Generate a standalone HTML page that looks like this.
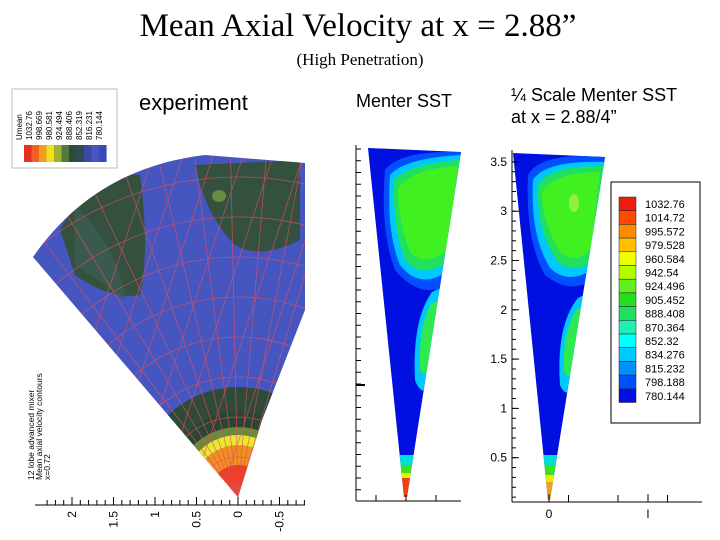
<!DOCTYPE html>
<html><head><meta charset="utf-8"><style>
html,body{margin:0;padding:0;background:#fff;overflow:hidden;width:720px;height:540px;}
svg{display:block;overflow:hidden;}
text{font-family:"Liberation Sans",sans-serif;}
</style></head><body>
<svg id="s" width="720" height="540" viewBox="0 0 720 540">
<text x="358" y="36" text-anchor="middle" style="font-family:'Liberation Serif',serif" font-size="33">Mean Axial Velocity at x = 2.88”</text>
<text x="360" y="65" text-anchor="middle" style="font-family:'Liberation Serif',serif" font-size="17">(High Penetration)</text>
<text x="139" y="110" font-size="22">experiment</text>
<text x="356" y="107" font-size="18">Menter SST</text>
<text x="511" y="101" font-size="18">¼ Scale Menter SST</text>
<text x="511" y="123" font-size="18">at x = 2.88/4”</text>

<defs>
<clipPath id="fanclip"><path d="M238,497 L33,257 Q95,168 205,155 L305,163 L305,310 L262,420 Z"/></clipPath>
<clipPath id="midclip"><path d="M368,148 L461,152 L407,497 L404,497 Z"/></clipPath>
<clipPath id="rclip"><path d="M513,153 L605,157 L550,500 L548,500 Z"/></clipPath>
</defs>
<g clip-path="url(#fanclip)">
<rect x="30" y="150" width="280" height="350" fill="#4656c0"/>
<path d="M60,230 Q90,170 140,175 Q150,250 140,295 Q110,300 75,275 Z" fill="#34503e"/>
<path d="M75,205 Q120,250 125,300 Q100,280 75,265 Z" fill="#3a5a50"/>
<path d="M195,165 L300,160 L300,240 Q260,260 235,245 Q205,215 195,165 Z" fill="#34503e"/>
<ellipse cx="219" cy="196" rx="7" ry="6" fill="#6a8a40"/>
<path d="M133,497 A105,110 0 0 1 343,497 Z" fill="#2f4a38"/>
<path d="M158,497 A80,85 0 0 1 318,497 Z" fill="#2a4632"/>
<path d="M172,497 A66,70 0 0 1 304,497 Z" fill="#6b8a3a"/>
<path d="M180,497 A58,62 0 0 1 296,497 Z" fill="#e8e830"/>
<path d="M190,497 A48,52 0 0 1 286,497 Z" fill="#f09020"/>
<path d="M208,497 A30,32 0 0 1 268,497 Z" fill="#f03a20"/>
<g id="mesh" stroke="#e05060" stroke-width="0.8" fill="none" opacity="0.75"></g>
</g>
<g>
<rect x="12" y="89" width="105" height="79" fill="#fff" stroke="#bbb"/>
<g id="lleg"></g>
</g>
<g font-size="8.5">
<text transform="translate(34,480) rotate(-90)">12 lobe advanced mixer</text>
<text transform="translate(42,480) rotate(-90)">Mean axial velocity contours</text>
<text transform="translate(50,480) rotate(-90)">x=0.72</text>
</g>
<g id="laxis"></g>

<g clip-path="url(#midclip)">
<rect x="355" y="140" width="115" height="362" fill="#0010e0"/>
<path d="M385,170 Q400,150 461,152 L447,285 Q420,300 395,270 Q380,230 385,170 Z" fill="#0050ff"/>
<path d="M390,175 Q405,158 461,155 L446,272 Q420,290 400,265 Q386,230 390,175 Z" fill="#00c8ff"/>
<path d="M394,180 Q410,163 461,160 L447,262 Q420,280 405,260 Q392,225 394,180 Z" fill="#20e060"/>
<path d="M398,188 Q415,168 458,166 L447,250 Q425,268 410,252 Q398,222 398,188 Z" fill="#40f020"/>
<path d="M432,292 Q445,285 447,290 L432,390 Q420,395 415,380 Q412,320 432,292 Z" fill="#00c8ff"/>
<path d="M430,305 Q440,298 444,302 L434,365 Q426,380 420,370 Q418,330 430,305 Z" fill="#30e850"/>
<rect x="395" y="455" width="20" height="10" fill="#00e0d0"/>
<rect x="395" y="465" width="20" height="8" fill="#40e020"/>
<rect x="395" y="473" width="20" height="5" fill="#e0f000"/>
<rect x="395" y="478" width="20" height="20" fill="#f04010"/>
</g>
<g id="maxis"></g>

<g clip-path="url(#rclip)">
<rect x="505" y="140" width="110" height="362" fill="#0010e0"/>
<path d="M528,175 Q540,152 605,157 L592,280 Q570,295 545,275 Q525,240 528,175 Z" fill="#0050ff"/>
<path d="M533,180 Q545,160 605,162 L591,270 Q568,285 550,268 Q530,235 533,180 Z" fill="#00c8ff"/>
<path d="M538,185 Q550,165 604,166 L592,262 Q570,275 556,260 Q536,228 538,185 Z" fill="#20e060"/>
<path d="M542,192 Q555,172 600,172 L591,250 Q572,265 560,252 Q542,222 542,192 Z" fill="#40f020"/>
<ellipse cx="574" cy="203" rx="5" ry="9" fill="#90f040"/>
<path d="M578,298 Q590,292 592,296 L577,390 Q565,398 560,385 Q556,325 578,298 Z" fill="#00c8ff"/>
<path d="M576,310 Q586,304 588,308 L578,368 Q570,382 564,372 Q562,335 576,310 Z" fill="#30e850"/>
<rect x="540" y="455" width="20" height="10" fill="#00e0d0"/>
<rect x="540" y="465" width="20" height="10" fill="#40e020"/>
<rect x="540" y="475" width="20" height="7" fill="#e0f000"/>
<rect x="540" y="482" width="20" height="20" fill="#f0a020"/>
</g>
<g id="raxis"></g>
<g>
<rect x="611" y="182" width="89" height="241" fill="#fff" stroke="#000" stroke-width="1"/>
<g id="rleg"></g>
</g>
</svg>
<script>
const NS='http://www.w3.org/2000/svg';
const rLegValues=['1032.76','1014.72','995.572','979.528','960.584','942.54','924.496','905.452','888.408','870.364','852.32','834.276','815.232','798.188','780.144'];
const rLegColors=['#ee1c0c','#ff4800','#ff8a00','#ffc000','#f0ff00','#b0ff00','#60f020','#20e020','#20e060','#20f0b0','#00ffff','#00c8ff','#0090ff','#0050ff','#0010e0'];
const lLegValues=['Umean','1032.76','998.669','980.581','924.494','888.406','852.319','816.231','780.144'];
const lLegColors=['#e83020','#f06020','#f0a020','#f0e020','#a0b030','#507a40','#2f4a38','#2f4a50','#3a4aa0','#4656c0','#3a48b8'];
const rYTicks=[0.5,1,1.5,2,2.5,3,3.5];
const rXTicks=[0,1];
const lXTicks=[2,1.5,1,0.5,0,-0.5];
function el(t,a,p){const e=document.createElementNS(NS,t);for(const k in a)e.setAttribute(k,a[k]);p.appendChild(e);return e;}
const ry=v=>507-98.6*v, rx=v=>549+99*v;
const ra=document.getElementById('raxis');
el('line',{x1:512,y1:150,x2:512,y2:502,stroke:'#000'},ra);
el('line',{x1:512,y1:502,x2:702,y2:502,stroke:'#000'},ra);
for(let v=0.1;v<3.6;v+=0.1){const t=el('line',{x1:512,y1:ry(v),x2:516,y2:ry(v),stroke:'#000'},ra);}
rYTicks.forEach(v=>{const t=el('line',{x1:512,y1:ry(v),x2:519,y2:ry(v),stroke:'#000'},ra);
const l=el('text',{x:507,y:ry(v)+4,'text-anchor':'end','font-size':12},ra);l.textContent=v;});
[0.5,1,1.5].forEach(v=>el('line',{x1:rx(v)-30,y1:502,x2:rx(v)-30,y2:495,stroke:'#000'},ra));
rXTicks.forEach(v=>{el('line',{x1:rx(v),y1:502,x2:rx(v),y2:494,stroke:'#000'},ra);
const l=el('text',{x:rx(v),y:518,'text-anchor':'middle','font-size':12},ra);l.textContent=v===1?'l':v;});
const rl=document.getElementById('rleg');
rLegValues.forEach((v,i)=>{const y=197+i*13.7;
const r=el('rect',{x:619,y:y,width:17,height:13.7,fill:rLegColors[i],stroke:'#222','stroke-width':0.5},rl);
const t=el('text',{x:645,y:y+11,'font-size':11},rl);t.textContent=v;});
const ma=document.getElementById('maxis');
el('line',{x1:356,y1:145,x2:356,y2:501,stroke:'#000'},ma);
el('line',{x1:356,y1:501,x2:461,y2:501,stroke:'#000'},ma);
for(let i=0;i<30;i++){const y=149+i*11.75;el('line',{x1:356,y1:y,x2:361,y2:y,stroke:'#000'},ma);}
el('line',{x1:356,y1:385,x2:365,y2:385,stroke:'#000','stroke-width':2},ma);
[376,406,436].forEach(x=>el('line',{x1:x,y1:501,x2:x,y2:495,stroke:'#000'},ma));
const lx=v=>238-83*v;
const la=document.getElementById('laxis');
el('line',{x1:35,y1:505,x2:305,y2:505,stroke:'#000'},la);
for(let v=-0.8;v<=2.4;v+=0.1){el('line',{x1:lx(v),y1:505,x2:lx(v),y2:500,stroke:'#000'},la);}
lXTicks.forEach(v=>{el('line',{x1:lx(v),y1:505,x2:lx(v),y2:497,stroke:'#000'},la);
const l=el('text',{'font-size':12,'text-anchor':'end',transform:`translate(${lx(v)+4},511) rotate(-90)`},la);l.textContent=v;});
const ll=document.getElementById('lleg');
lLegValues.forEach((v,i)=>{const t=el('text',{'font-size':8,transform:`translate(${22+i*10},140) rotate(-90)`},ll);t.textContent=v;});
lLegColors.forEach((c,i)=>{const r=el('rect',{x:24+i*7.5,y:145,width:7.6,height:17,fill:c},ll);});
const m=document.getElementById('mesh');
for(let k=1;k<=9;k++){const r=k*40;el('path',{d:`M${238-r},497 A${r},${r} 0 0 1 ${238+r},497`},m);}
for(let a=0;a<=60;a+=6){const t=(a-90)*Math.PI/180-0.65;el('line',{x1:238,y1:497,x2:238+340*Math.cos(t),y2:497+340*Math.sin(t)},m);}
for(let i=0;i<10;i++){el('line',{x1:40+i*30,y1:497,x2:155+i*30,y2:150},m);}
</script>
</body></html>
